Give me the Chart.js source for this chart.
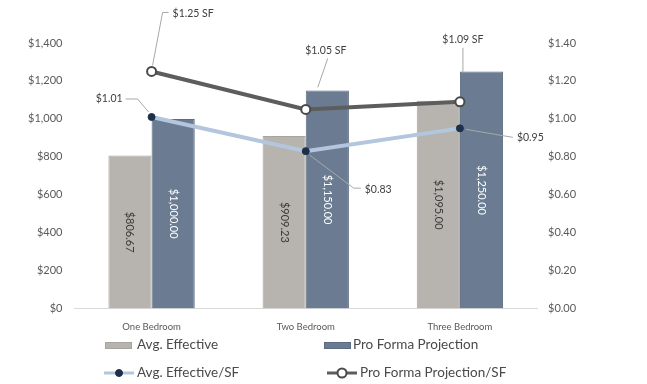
<!DOCTYPE html>
<html>
<head>
<meta charset="utf-8">
<script src="https://cdn.jsdelivr.net/npm/chart.js@4/dist/chart.umd.min.js"></script>
<style>
  html, body { margin: 0; padding: 0; background: #fff; }
  #wrap { width: 647px; height: 384px; position: relative; }
</style>
</head>
<body>
<div id="wrap"><canvas id="rentChart" width="647" height="384"></canvas></div>
<script>
const categories = ['One Bedroom', 'Two Bedroom', 'Three Bedroom'];
const avgEffective = [806.67, 909.23, 1095.00];
const proForma = [1000.00, 1150.00, 1250.00];
const avgEffectiveSF = [1.01, 0.83, 0.95];
const proFormaSF = [1.25, 1.05, 1.09];
const rentTicks = [0, 200, 400, 600, 800, 1000, 1200, 1400];
const sfTicks = [0, 0.2, 0.4, 0.6, 0.8, 1.0, 1.2, 1.4];

const FONT = 'Lato, "Open Sans", sans-serif';
const GREY_BAR = '#b7b4af';
const BLUE_BAR = '#6b7c92';
const SF_LINE = '#b3c6dd';
const SF_DOT = '#1e2f4a';
const PF_LINE = '#5d5d5d';

const money = (v) => '$' + v.toLocaleString('en-US', { minimumFractionDigits: 2, maximumFractionDigits: 2 });

// per-point label placement for the two $/SF lines: offset from the point, alignment, leader path
const lineLabels = {
  2: [
    { text: '$' + avgEffectiveSF[0].toFixed(2), dx: -29, dy: -18, align: 'right', leader: [[-26, -18], [-14, -18], [-3, -5]] },
    { text: '$' + avgEffectiveSF[1].toFixed(2), dx: 59, dy: 38, align: 'left', leader: [[4, 4], [48, 37], [55, 37]] },
    { text: '$' + avgEffectiveSF[2].toFixed(2), dx: 57, dy: 9, align: 'left', leader: [[6, 1], [53, 9]] }
  ],
  3: [
    { text: '$' + proFormaSF[0].toFixed(2) + ' SF', dx: 21, dy: -58, align: 'left', leader: [[1, -6], [11, -59], [17, -59]] },
    { text: '$' + proFormaSF[1].toFixed(2) + ' SF', dx: 20, dy: -59, align: 'center', leader: [[22, -51], [12, -22]] },
    { text: '$' + proFormaSF[2].toFixed(2) + ' SF', dx: 3, dy: -62, align: 'center', leader: [[3, -54], [3, -30]] }
  ]
};

const valueLabels = {
  id: 'valueLabels',
  afterDatasetsDraw(chart) {
    const ctx = chart.ctx;
    ctx.save();
    // rotated value text inside each bar
    [0, 1].forEach((di) => {
      const meta = chart.getDatasetMeta(di);
      meta.data.forEach((bar, i) => {
        const v = chart.data.datasets[di].data[i];
        ctx.save();
        ctx.translate(bar.x, (bar.y + bar.base) / 2);
        ctx.rotate(Math.PI / 2);
        ctx.font = '11px ' + FONT;
        ctx.fillStyle = di === 0 ? '#3a3a3a' : '#ffffff';
        ctx.textAlign = 'center';
        ctx.textBaseline = 'middle';
        ctx.fillText(money(v), 0, 0);
        ctx.restore();
      });
    });
    // point labels with leader lines
    Object.keys(lineLabels).forEach((key) => {
      const meta = chart.getDatasetMeta(+key);
      lineLabels[key].forEach((lab, i) => {
        const pt = meta.data[i];
        ctx.strokeStyle = '#a8a8a8';
        ctx.lineWidth = 1;
        ctx.beginPath();
        lab.leader.forEach((p, j) => {
          if (j === 0) ctx.moveTo(pt.x + p[0], pt.y + p[1]);
          else ctx.lineTo(pt.x + p[0], pt.y + p[1]);
        });
        ctx.stroke();
        ctx.font = '10.5px ' + FONT;
        ctx.fillStyle = '#404040';
        ctx.textAlign = lab.align;
        ctx.textBaseline = 'middle';
        ctx.fillText(lab.text, pt.x + lab.dx, pt.y + lab.dy);
      });
    });
    ctx.restore();
  }
};

// two-by-two legend under the axis
const gridLegend = {
  id: 'gridLegend',
  afterDraw(chart) {
    const ctx = chart.ctx;
    const ds = chart.data.datasets;
    const items = [
      { i: 0, x: 105, y: 345, tx: 137 }, { i: 1, x: 324, y: 345, tx: 353 },
      { i: 2, x: 104, y: 373, tx: 137 }, { i: 3, x: 327, y: 373, tx: 360 }
    ];
    ctx.save();
    ctx.font = '13.5px ' + FONT;
    ctx.textBaseline = 'middle';
    ctx.textAlign = 'left';
    items.forEach((it) => {
      const d = ds[it.i];
      if (d.type === 'bar') {
        ctx.fillStyle = d.swatch;
        ctx.fillRect(it.x, it.y - 3, 27, 7);
        ctx.strokeStyle = d.borderColor;
        ctx.lineWidth = 1;
        ctx.strokeRect(it.x + 0.5, it.y - 2.5, 26, 6);
      } else {
        ctx.strokeStyle = d.borderColor;
        ctx.lineWidth = 3;
        ctx.beginPath();
        ctx.moveTo(it.x, it.y);
        ctx.lineTo(it.tx - 3, it.y);
        ctx.stroke();
        ctx.beginPath();
        ctx.arc((it.x + it.tx - 3) / 2, it.y, d.pointRadius, 0, Math.PI * 2);
        ctx.fillStyle = d.pointBackgroundColor;
        ctx.fill();
        ctx.lineWidth = d.pointBorderWidth;
        ctx.strokeStyle = d.pointBorderColor;
        ctx.stroke();
      }
      ctx.fillStyle = '#4a4a4a';
      ctx.fillText(d.label, it.tx, it.y);
    });
    ctx.restore();
  }
};

// bars get slightly lighter side edges
function barFill(light, dark) {
  return (c) => {
    const el = c.element;
    if (!el || !Number.isFinite(el.x) || !Number.isFinite(el.width)) return dark;
    const w = el.width;
    const g = c.chart.ctx.createLinearGradient(el.x - w / 2, 0, el.x + w / 2, 0);
    g.addColorStop(0, light);
    g.addColorStop(0.15, dark);
    g.addColorStop(0.85, dark);
    g.addColorStop(1, light);
    return g;
  };
}

new Chart(document.getElementById('rentChart'), {
  data: {
    labels: categories,
    datasets: [
      {
        type: 'bar',
        label: 'Avg. Effective',
        data: avgEffective,
        yAxisID: 'y',
        backgroundColor: barFill('#cdcac6', GREY_BAR),
        swatch: GREY_BAR,
        borderColor: '#a7a49f',
        borderWidth: 1,
        categoryPercentage: 0.56,
        barPercentage: 1,
        order: 2
      },
      {
        type: 'bar',
        label: 'Pro Forma Projection',
        data: proForma,
        yAxisID: 'y',
        backgroundColor: barFill('#8595a9', BLUE_BAR),
        swatch: BLUE_BAR,
        borderColor: '#5b6b80',
        borderWidth: 1,
        categoryPercentage: 0.56,
        barPercentage: 1,
        order: 2
      },
      {
        type: 'line',
        label: 'Avg. Effective/SF',
        data: avgEffectiveSF,
        yAxisID: 'y1',
        borderColor: SF_LINE,
        borderWidth: 4,
        pointRadius: 3.5,
        pointBackgroundColor: SF_DOT,
        pointBorderColor: SF_DOT,
        pointBorderWidth: 1,
        tension: 0,
        order: 1
      },
      {
        type: 'line',
        label: 'Pro Forma Projection/SF',
        data: proFormaSF,
        yAxisID: 'y1',
        borderColor: PF_LINE,
        borderWidth: 4,
        pointRadius: 4.5,
        pointBackgroundColor: '#ffffff',
        pointBorderColor: '#4a4a4a',
        pointBorderWidth: 2,
        tension: 0,
        order: 0
      }
    ]
  },
  options: {
    responsive: false,
    animation: false,
    layout: { padding: { top: 43, bottom: 46, left: 0, right: 0 } },
    plugins: {
      legend: { display: false },
      tooltip: { enabled: false }
    },
    scales: {
      x: {
        grid: { display: false },
        border: { display: true, color: '#d9d9d9', width: 1 },
        ticks: { color: '#595959', font: { family: FONT, size: 9.5 }, padding: 5 }
      },
      y: {
        position: 'left',
        min: 0,
        max: 1400,
        afterBuildTicks: (s) => { s.ticks = rentTicks.map((v) => ({ value: v })); },
        afterFit: (s) => { s.width = 74.5; },
        grid: { display: false, drawTicks: false },
        border: { display: false },
        ticks: {
          color: '#595959',
          font: { family: FONT, size: 11 },
          padding: 12,
          callback: (v) => '$' + v.toLocaleString('en-US')
        }
      },
      y1: {
        position: 'right',
        min: 0,
        max: 1.4,
        afterBuildTicks: (s) => { s.ticks = sfTicks.map((v) => ({ value: v })); },
        afterFit: (s) => { s.width = 110; },
        grid: { display: false, drawTicks: false },
        border: { display: false },
        ticks: {
          color: '#595959',
          font: { family: FONT, size: 11 },
          padding: 11,
          callback: (v) => '$' + v.toFixed(2)
        }
      }
    }
  },
  plugins: [valueLabels, gridLegend]
});
</script>
</body>
</html>
